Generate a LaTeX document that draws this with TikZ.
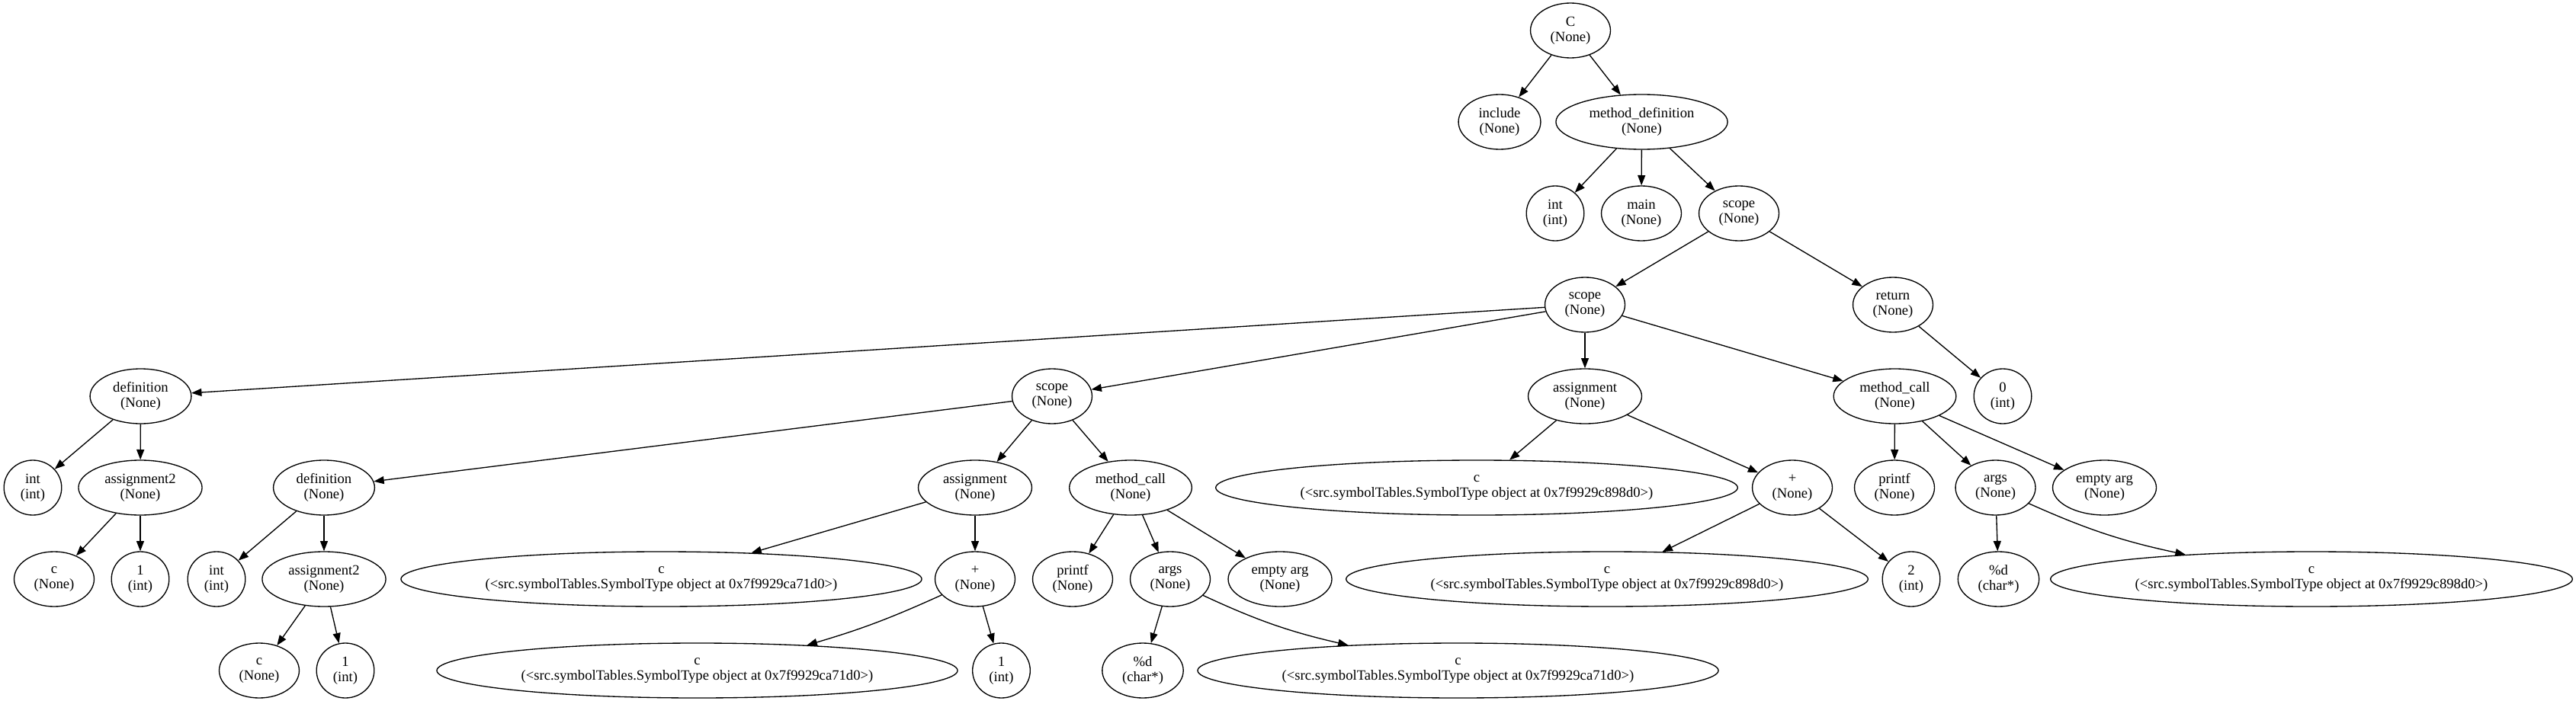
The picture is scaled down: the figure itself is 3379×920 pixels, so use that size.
\documentclass[tikz,border=0pt]{standalone}
\usepackage{fontspec}
\setmainfont{Liberation Serif}
\usetikzlibrary{arrows.meta,shapes.geometric}
\begin{document}
\begin{tikzpicture}[x=0.75pt,y=-0.75pt,
  gnode/.style={draw,ellipse,line width=1pt,inner xsep=8pt,inner ysep=0pt,
    minimum width=54pt,minimum height=54pt,align=center,
    font=\fontsize{14pt}{15pt}\selectfont},
  link/.style={draw,line width=1pt,-{Triangle[length=10pt,width=7.5pt]}}]
\useasboundingbox (0,0) rectangle (3379,920);
% row 0
\node[gnode] (C) at (2060,40) {C\\(None)};
% row 1
\node[gnode] (inc) at (1967,160) {include\\(None)};
\node[gnode] (mdef) at (2153.5,160) {method\_definition\\(None)};
% row 2
\node[gnode] (intM) at (2040,280) {int\\(int)};
\node[gnode] (main) at (2153,280) {main\\(None)};
\node[gnode] (scA) at (2281,280) {scope\\(None)};
% row 3
\node[gnode] (scB) at (2079,400) {scope\\(None)};
\node[gnode] (ret) at (2483,400) {return\\(None)};
% row 4
\node[gnode] (defA) at (184.5,520) {definition\\(None)};
\node[gnode] (scC) at (1380,520) {scope\\(None)};
\node[gnode] (assR) at (2079,520) {assignment\\(None)};
\node[gnode] (mcR) at (2485.5,520) {method\_call\\(None)};
\node[gnode] (zero) at (2627,520) {0\\(int)};
% row 5
\node[gnode] (intA) at (43,640) {int\\(int)};
\node[gnode] (asAA) at (184,640) {assignment2\\(None)};
\node[gnode] (defB) at (425,640) {definition\\(None)};
\node[gnode] (assL) at (1279,640) {assignment\\(None)};
\node[gnode] (mcL) at (1483,640) {method\_call\\(None)};
\node[gnode] (cR1) at (1937,640) {c\\(<src.symbolTables.SymbolType object at 0x7f9929c898d0>)};
\node[gnode] (plR) at (2351,640) {+\\(None)};
\node[gnode] (prR) at (2485,640) {printf\\(None)};
\node[gnode] (argR) at (2617.5,640) {args\\(None)};
\node[gnode] (emR) at (2760.5,640) {empty arg\\(None)};
% row 6
\node[gnode] (cA) at (71,760) {c\\(None)};
\node[gnode] (oneA) at (184,760) {1\\(int)};
\node[gnode] (intB) at (284,760) {int\\(int)};
\node[gnode] (asBB) at (425,760) {assignment2\\(None)};
\node[gnode] (cL1) at (867.5,760) {c\\(<src.symbolTables.SymbolType object at 0x7f9929ca71d0>)};
\node[gnode] (plL) at (1279,760) {+\\(None)};
\node[gnode] (prL) at (1407,760) {printf\\(None)};
\node[gnode] (argL) at (1535,760) {args\\(None)};
\node[gnode] (emL) at (1679,760) {empty arg\\(None)};
\node[gnode] (cR2) at (2108,760) {c\\(<src.symbolTables.SymbolType object at 0x7f9929c898d0>)};
\node[gnode] (two) at (2507,760) {2\\(int)};
\node[gnode] (pdR) at (2621.5,760) {\%d\\(char*)};
\node[gnode] (cR3) at (3032,760) {c\\(<src.symbolTables.SymbolType object at 0x7f9929c898d0>)};
% row 7
\node[gnode] (cB) at (340,880) {c\\(None)};
\node[gnode] (oneB) at (453,880) {1\\(int)};
\node[gnode] (cL2) at (914.5,880) {c\\(<src.symbolTables.SymbolType object at 0x7f9929ca71d0>)};
\node[gnode] (oneC) at (1313.5,880) {1\\(int)};
\node[gnode] (pdL) at (1499,880) {\%d\\(char*)};
\node[gnode] (cL3) at (1912.5,880) {c\\(<src.symbolTables.SymbolType object at 0x7f9929ca71d0>)};
% edges
\path[link] (C) -- (inc);
\path[link] (C) -- (mdef);
\path[link] (mdef) -- (intM);
\path[link] (mdef) -- (main);
\path[link] (mdef) -- (scA);
\path[link] (scA) -- (scB);
\path[link] (scA) -- (ret);
\path[link] (ret) -- (zero);
\path[link] (scB) -- (defA);
\path[link] (scB) -- (scC);
\path[link] (scB) -- (assR);
\path[link] (scB) -- (mcR);
\path[link] (defA) -- (intA);
\path[link] (defA) -- (asAA);
\path[link] (asAA) -- (cA);
\path[link] (asAA) -- (oneA);
\path[link] (scC) -- (defB);
\path[link] (scC) -- (assL);
\path[link] (scC) -- (mcL);
\path[link] (defB) -- (intB);
\path[link] (defB) -- (asBB);
\path[link] (asBB) -- (cB);
\path[link] (asBB) -- (oneB);
\path[link] (assL) -- (cL1);
\path[link] (assL) -- (plL);
\path[link] (plL) to[bend left=4] (cL2.13);
\path[link] (plL) -- (oneC);
\path[link] (mcL) -- (prL);
\path[link] (mcL) -- (argL);
\path[link] (mcL) -- (emL);
\path[link] (argL) -- (pdL);
\path[link] (argL) to[bend right=6] (cL3.167);
\path[link] (assR) -- (cR1);
\path[link] (assR) -- (plR);
\path[link] (plR) -- (cR2);
\path[link] (plR) -- (two);
\path[link] (mcR) -- (prR);
\path[link] (mcR) -- (argR);
\path[link] (mcR) -- (emR);
\path[link] (argR) -- (pdR);
\path[link] (argR) to[bend right=6] (cR3.169);
\end{tikzpicture}
\end{document}
